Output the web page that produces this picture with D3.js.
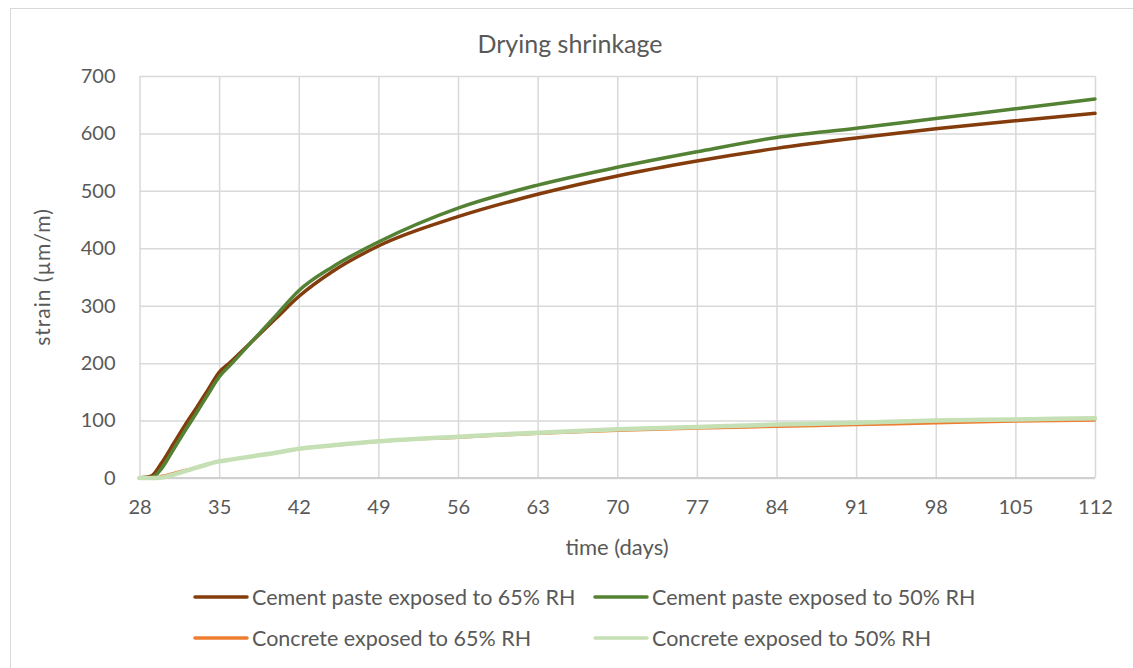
<!DOCTYPE html>
<html>
<head>
<meta charset="utf-8">
<script src="https://cdn.jsdelivr.net/npm/d3@7/dist/d3.min.js"></script>
<style>
  html, body { margin: 0; padding: 0; background: #fff; }
  svg { display: block; }
  text { font-family: Lato, "Liberation Sans", sans-serif; fill: #595959; }
</style>
</head>
<body>
<svg id="chart" width="1133" height="668"></svg>
<script>
// Measurement days (age of specimens)
const days = [28, 29, 30, 31, 32, 33, 34, 35, 36, 38, 40, 42, 45, 49, 56, 63, 70, 77, 84, 91, 98, 105, 112];

// Drying shrinkage strain, µm/m
const paste65 = [0, 3, 28, 60, 92, 122, 153, 184, 202, 240, 278, 316, 360, 404, 455, 494, 526, 552, 574, 592, 608, 622, 635];
const paste50 = [0, 0, 18, 50, 82, 113, 145, 176, 197, 240, 283, 326, 368, 411, 470, 510, 541, 568, 593, 609, 626, 643, 660];
const concrete65 = [0, 0, 4, 9, 14, 19, 25, 30, 33, 38, 44, 50, 56, 63, 70, 77, 82, 86, 89, 92, 95, 98, 100];
const concrete50 = [0, 0, 1, 6, 12, 18, 24, 29, 32, 38, 44, 51, 57, 64, 72, 79, 85, 89, 93, 96, 100, 102, 104];

const xTicks = [28, 35, 42, 49, 56, 63, 70, 77, 84, 91, 98, 105, 112];
const yTicks = [0, 100, 200, 300, 400, 500, 600, 700];

const seriesNames = [
  "Cement paste exposed to 65% RH",
  "Cement paste exposed to 50% RH",
  "Concrete exposed to 65% RH",
  "Concrete exposed to 50% RH"
];
const seriesValues = [paste65, paste50, concrete65, concrete50];
const seriesColors = ["#843C0C", "#548235", "#ED7D31", "#C5E0B4"];
const seriesWidths = [3.5, 3.5, 2.25, 4.5];

const svg = d3.select("#chart");

// outer chart frame
svg.append("rect")
  .attr("x", 10.5).attr("y", 8.5)
  .attr("width", 1140).attr("height", 680)
  .attr("fill", "#fff").attr("stroke", "#d9d9d9").attr("stroke-width", 1);

const plot = { left: 139.5, right: 1095, top: 76, bottom: 478 };

const x = d3.scaleLinear().domain([28, 112]).range([plot.left, plot.right]);
const y = d3.scaleLinear().domain([0, 700]).range([plot.bottom, plot.top]);

// horizontal gridlines + y tick labels
const yAxis = d3.axisLeft(y).tickValues(yTicks).tickSize(-(plot.right - plot.left)).tickPadding(24);
const gy = svg.append("g").attr("transform", `translate(${plot.left},0)`).call(yAxis);
gy.select(".domain").remove();
gy.selectAll(".tick line").attr("stroke", "#d9d9d9").attr("stroke-width", 1.5);
gy.selectAll(".tick text").attr("font-size", 20).attr("font-family", "Lato, 'Liberation Sans', sans-serif").attr("fill", "#595959");

// vertical gridlines + x tick labels
const xAxis = d3.axisBottom(x).tickValues(xTicks).tickSize(-(plot.bottom - plot.top)).tickPadding(22);
const gx = svg.append("g").attr("transform", `translate(0,${plot.bottom})`).call(xAxis);
gx.select(".domain").remove();
gx.selectAll(".tick line").attr("stroke", "#d9d9d9").attr("stroke-width", 1.5);
gx.selectAll(".tick text").attr("font-size", 20).attr("font-family", "Lato, 'Liberation Sans', sans-serif").attr("fill", "#595959");

// baseline of the category axis
svg.append("line")
  .attr("x1", plot.left).attr("x2", plot.right)
  .attr("y1", y(0)).attr("y2", y(0))
  .attr("stroke", "#d0d0d0").attr("stroke-width", 2);

// data lines
const line = d3.line().curve(d3.curveMonotoneX);
seriesValues.forEach((vals, i) => {
  svg.append("path")
    .datum(days.map((d, j) => [x(d), y(vals[j])]))
    .attr("d", line)
    .attr("fill", "none")
    .attr("stroke", seriesColors[i])
    .attr("stroke-width", seriesWidths[i])
    .attr("stroke-linejoin", "round")
    .attr("stroke-linecap", "round");
});

// title and axis titles
svg.append("text")
  .attr("x", 570).attr("y", 53)
  .attr("text-anchor", "middle").attr("font-size", 25)
  .text("Drying shrinkage");

svg.append("text")
  .attr("x", 617).attr("y", 555)
  .attr("text-anchor", "middle").attr("font-size", 22)
  .text("time (days)");

svg.append("text")
  .attr("transform", "translate(50,277) rotate(-90)")
  .attr("text-anchor", "middle").attr("font-size", 21)
  .attr("letter-spacing", 1)
  .text("strain (µm/m)");

// legend, two columns by two rows
const legendPos = [[195, 597], [595, 597], [195, 638], [595, 638]];
seriesNames.forEach((name, i) => {
  const [lx, ly] = legendPos[i];
  svg.append("line")
    .attr("x1", lx).attr("x2", lx + 52)
    .attr("y1", ly).attr("y2", ly)
    .attr("stroke", seriesColors[i])
    .attr("stroke-width", 3.5)
    .attr("stroke-linecap", "round");
  svg.append("text")
    .attr("x", lx + 57).attr("y", ly + 8)
    .attr("font-size", 21.5)
    .text(name);
});
</script>
</body>
</html>
